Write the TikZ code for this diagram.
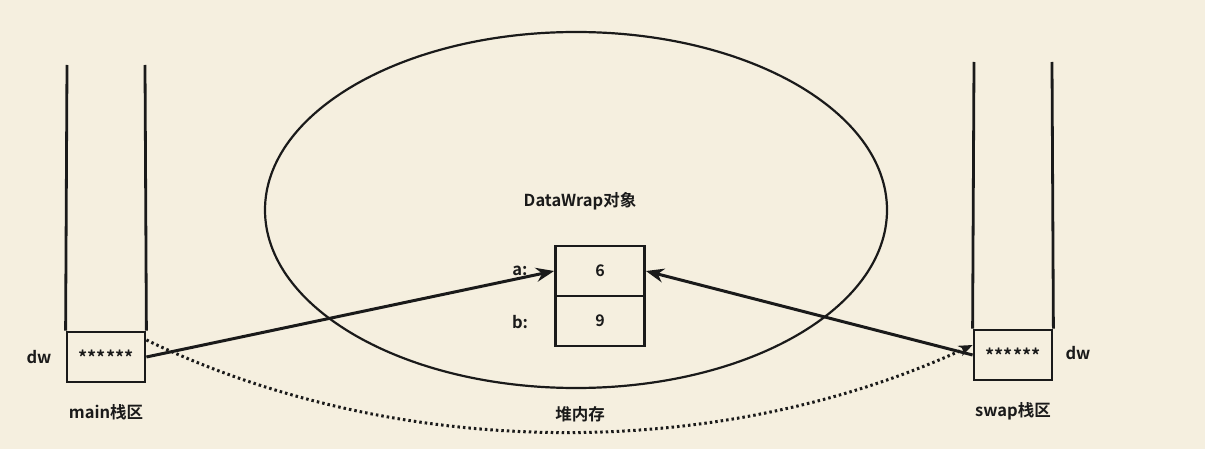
\documentclass[tikz,border=0pt]{standalone}
\usepackage{fontspec}
\setmainfont{Noto Sans CJK SC}[BoldFont={Noto Sans CJK SC Bold}]
\usetikzlibrary{arrows.meta}
\definecolor{bg}{HTML}{F5EFDF}
\definecolor{ink}{HTML}{1A1A1A}
\tikzset{
  lbl/.style={font=\bfseries\fontsize{16.5}{18}\selectfont, text=ink, inner sep=0pt},
  cell/.style={draw=ink, line width=2.8pt, minimum width=78pt, minimum height=50pt, inner sep=0pt, anchor=center, font=\bfseries\fontsize{18}{18}\selectfont, text=ink},
  fld/.style={draw=ink, line width=2.8pt, minimum width=89pt, minimum height=50pt, inner sep=0pt, font=\bfseries\fontsize{16}{18}\selectfont, text=ink},
  wall/.style={draw=ink, line width=2.8pt},
  ptr/.style={draw=ink, line width=3pt, -{Stealth[length=18pt,width=14pt]}},
  copyarr/.style={draw=ink, line width=3pt, dash pattern=on 2.5pt off 3pt, -{Stealth[length=14pt,width=11pt]}}
}
\begin{document}
\begin{tikzpicture}[x=1pt,y=-1pt]
\useasboundingbox (0,0) rectangle (1205,449);
\fill[bg] (0,0) rectangle (1205,449);
% heap ellipse
\draw[draw=ink, line width=2.2pt] (576,210) ellipse [x radius=311, y radius=178];
\node[lbl] (heap) at (580,414) {堆内存};
\node[lbl] (obj) at (580,201) {DataWrap对象};
% object fields
\node[fld] (fa) at (600,271) {6};
\node[fld] (fb) at (600,321) {9};
\node[lbl] (la) at (520,271) {a:};
\node[lbl] (lb) at (520,322) {b:};
% left stack
\node[cell] (lcell) at (106,357) {\raisebox{-4pt}{******}};
\coordinate (ltl) at (67,65);
\coordinate (ltr) at (145,65);
\draw[wall] (lcell.north west) -- (ltl);
\draw[wall] (lcell.north east) -- (ltr);
\node[lbl] (ldw) at (39,357) {dw};
\node[lbl] (lname) at (106,412) {main栈区};
% right stack
\node[cell] (rcell) at (1013,355) {\raisebox{-4pt}{******}};
\coordinate (rtl) at (974,62);
\coordinate (rtr) at (1052,62);
\draw[wall] (rcell.north west) -- (rtl);
\draw[wall] (rcell.north east) -- (rtr);
\node[lbl] (rdw) at (1078,353) {dw};
\node[lbl] (rname) at (1013,411) {swap栈区};
% pointers
\draw[ptr] (lcell.east) -- (fa.west);
\draw[ptr] (rcell.west) -- (fa.east);
% copy
\draw[copyarr] ([yshift=17pt]lcell.east) .. controls (400,462) and (720,462) .. ([yshift=10pt]rcell.west);
\end{tikzpicture}
\end{document}
